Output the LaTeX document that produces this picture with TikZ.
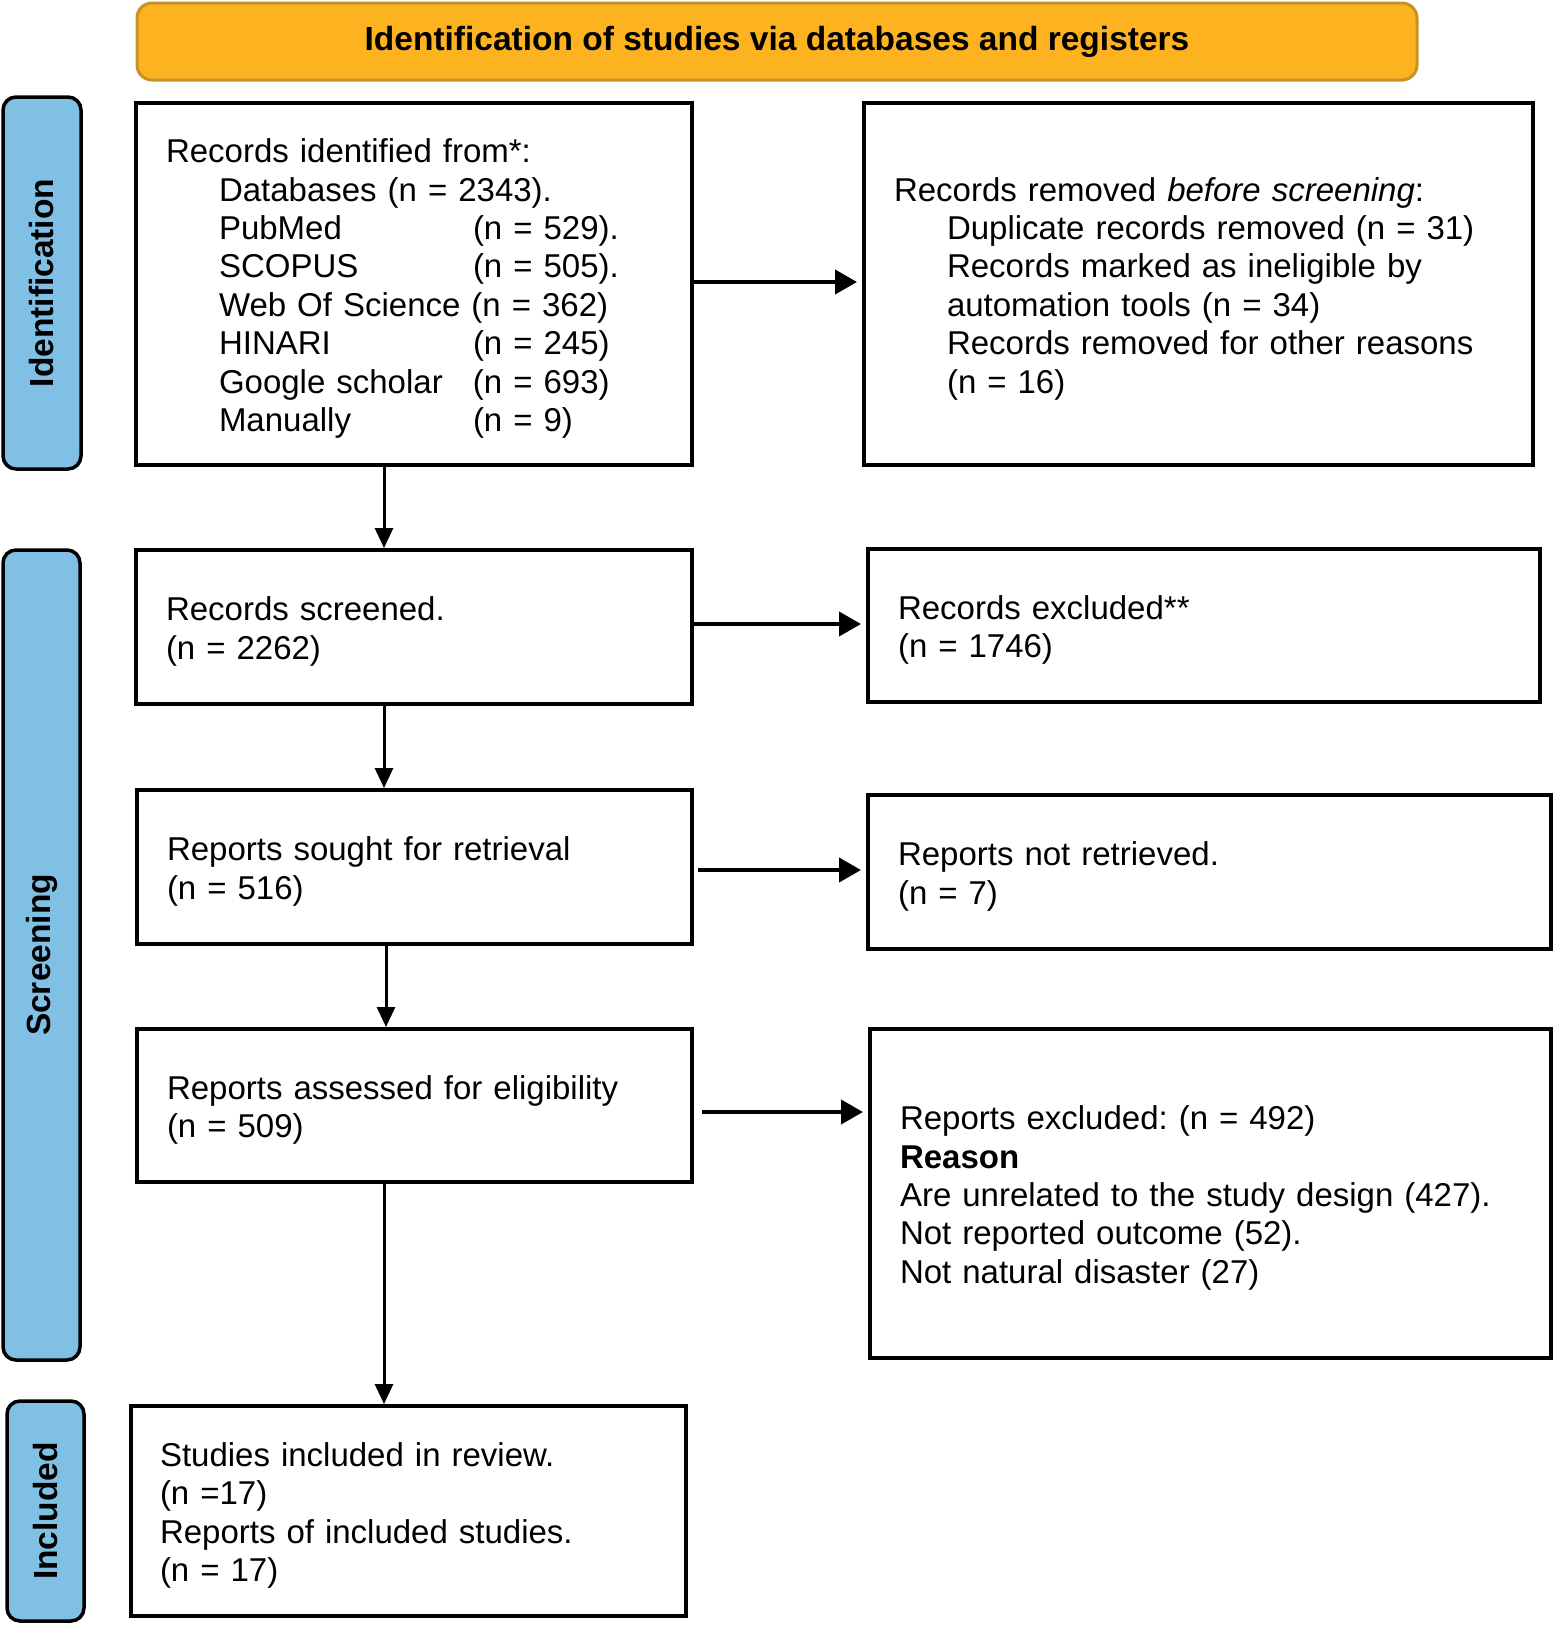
\documentclass[tikz,border=0pt]{standalone}
\usepackage{fontspec}
\setmainfont{Liberation Sans}
\usetikzlibrary{arrows.meta}
\definecolor{bannerfill}{RGB}{253,178,31}
\definecolor{bannerline}{RGB}{200,146,34}
\definecolor{sidefill}{RGB}{128,192,228}
\frenchspacing
\newcommand{\topgap}{\rule{0pt}{33pt}}
\begin{document}
\begin{tikzpicture}[x=1pt,y=-1pt,
  txt/.style={font=\fontsize{33}{38.4}\selectfont\frenchspacing},
  box/.style={txt,draw=black,fill=white,line width=4pt,rectangle,inner xsep=30pt,inner ysep=0pt,align=left},
  side/.style={draw=black,fill=sidefill,line width=3.5pt,rounded corners=13pt,rotate=90,inner sep=0pt,
    font=\fontsize{33.5}{38.4}\selectfont\bfseries},
  banner/.style={draw=bannerline,fill=bannerfill,line width=3pt,rounded corners=15pt,inner sep=0pt,
    font=\fontsize{33.5}{38.4}\selectfont\bfseries},
  harrow/.style={line width=4pt,-{Triangle[length=22pt,width=24pt]},shorten >=5pt},
  varrow/.style={line width=3pt,-{Triangle[length=20pt,width=18pt]}}
]
\useasboundingbox (0,0) rectangle (1554,1625);

% banner
\node[banner,minimum width=1280pt,minimum height=77pt] (ban) at (777,41.5) {Identification of studies via databases and registers};

% side labels
\node[side,minimum width=372pt,minimum height=78pt] (s1) at (42,283) {Identification};
\node[side,minimum width=810pt,minimum height=77pt] (s2) at (41.5,955) {Screening};
\node[side,minimum width=220pt,minimum height=77pt] (s3) at (45.5,1511) {Included};

% boxes
\node[box,minimum width=556pt,minimum height=362pt,text width=496pt] (b1) at (414,284) {\topgap
Records identified from*:\\
\hspace*{53pt}Databases (n = 2343).\\
\hspace*{53pt}\makebox[254pt][l]{PubMed}(n = 529).\\
\hspace*{53pt}\makebox[254pt][l]{SCOPUS}(n = 505).\\
\hspace*{53pt}Web Of Science (n = 362)\\
\hspace*{53pt}\makebox[254pt][l]{HINARI}(n = 245)\\
\hspace*{53pt}\makebox[254pt][l]{Google scholar}(n = 693)\\
\hspace*{53pt}\makebox[254pt][l]{Manually}(n = 9)};

\node[box,minimum width=669pt,minimum height=362pt,text width=609pt] (b2) at (1198.5,284) {\topgap
Records removed \textit{before screening}:\\
\hspace*{53pt}Duplicate records removed (n = 31)\\
\hspace*{53pt}Records marked as ineligible by\\
\hspace*{53pt}automation tools (n = 34)\\
\hspace*{53pt}Records removed for other reasons\\
\hspace*{53pt}(n = 16)};

\node[box,minimum width=556pt,minimum height=154pt,text width=496pt] (b3) at (414,627) {\topgap
Records screened.\\
(n = 2262)};

\node[box,minimum width=672pt,minimum height=153pt,text width=612pt] (b4) at (1204,625.5) {\topgap
Records excluded**\\
(n = 1746)};

\node[box,minimum width=555pt,minimum height=154pt,text width=495pt] (b5) at (414.5,867) {\topgap
Reports sought for retrieval\\
(n = 516)};

\node[box,minimum width=683pt,minimum height=154pt,text width=623pt] (b6) at (1209.5,872) {\topgap
Reports not retrieved.\\
(n = 7)};

\node[box,minimum width=555pt,minimum height=153pt,text width=495pt] (b7) at (414.5,1105.5) {\topgap
Reports assessed for eligibility\\
(n = 509)};

\node[box,minimum width=681pt,minimum height=329pt,text width=621pt] (b8) at (1210.5,1193.5) {\topgap
Reports excluded: (n = 492)\\
\textbf{Reason}\\
Are unrelated to the study design (427).\\
Not reported outcome (52).\\
Not natural disaster (27)};

\node[box,minimum width=555pt,minimum height=210pt,text width=497pt,inner xsep=29pt] (b9) at (408.5,1511) {\topgap
Studies included in review.\\
(n =17)\\
Reports of included studies.\\
(n = 17)};

% connectors
\coordinate (ax) at (384,0);
\coordinate (ax2) at (386,0);
\draw[varrow] (b1.south -| ax) -- (b3.north -| ax);
\draw[varrow] (b3.south -| ax) -- (b5.north -| ax);
\draw[varrow] (b5.south -| ax2) -- (b7.north -| ax2);
\draw[varrow] (b7.south -| ax) -- (b9.north -| ax);

\draw[harrow] ([yshift=2pt]b1.east) -- ([yshift=2pt]b1.east -| b2.west);
\draw[harrow] ([yshift=3pt]b3.east) -- ([yshift=3pt]b3.east -| b4.west);
\draw[harrow] ([xshift=4pt,yshift=-3pt]b5.east) -- ([yshift=-3pt]b5.east -| b6.west);
\draw[harrow] ([xshift=8pt,yshift=-6.5pt]b7.east) -- ([yshift=-6.5pt]b7.east -| b8.west);
\end{tikzpicture}
\end{document}
